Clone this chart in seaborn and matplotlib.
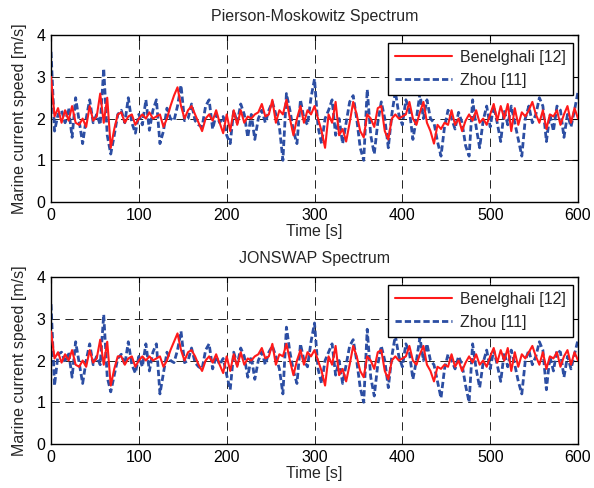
import numpy as np
import pandas as pd
import matplotlib
matplotlib.use("Agg")
import matplotlib.pyplot as plt
import seaborn as sns

# Sampling grid of the simulated records [s]
time = np.arange(0, 601, 4)

# Pierson-Moskowitz spectrum: marine current speed [m/s]
pm_benelghali = [
    3.0, 2.05, 2.25, 1.9, 2.2, 1.95, 2.3, 1.9, 1.85, 2.0, 1.8, 2.3, 1.95, 2.05, 2.6, 1.9, 2.5, 1.3, 1.75, 2.1, 2.15, 1.9, 2.05, 2.1, 1.85, 2.0,
    2.1, 2.0, 2.15, 2.0, 2.05, 2.1, 1.8, 2.0, 2.3, 2.55, 2.75, 2.3, 2.0, 2.2, 2.3, 2.1, 1.9, 1.7, 2.0, 2.1, 1.95, 2.2, 1.9, 1.65, 2.1,
    1.7, 2.2, 1.85, 2.2, 1.9, 2.05, 2.0, 2.1, 2.15, 2.35, 2.05, 2.1, 2.45, 1.9, 2.2, 2.1, 2.45, 2.0, 1.6, 2.0, 2.3, 1.9, 2.2, 2.1, 2.3,
    2.0, 1.7, 1.3, 2.1, 1.9, 2.4, 1.6, 1.75, 1.45, 1.9, 2.4, 2.1, 1.7, 1.55, 2.1, 2.0, 1.8, 2.25, 2.3, 1.7, 1.5, 2.0, 2.1, 2.0, 2.05,
    2.1, 2.4, 2.0, 1.85, 2.15, 2.4, 1.9, 1.7, 1.4, 1.85, 1.75, 1.9, 1.85, 2.2, 1.85, 2.0, 1.7, 1.95, 2.1, 1.95, 2.2, 1.9, 2.0, 1.85, 2.1,
    2.35, 1.95, 2.3, 2.0, 2.35, 1.7, 2.25, 1.85, 2.15, 2.05, 2.2, 2.4, 2.1, 1.9, 2.2, 1.75, 2.1, 2.05, 2.2, 1.85, 2.1, 2.3, 1.9, 2.25, 2.0,
]
pm_zhou = [
    3.6, 1.7, 2.1, 2.2, 1.9, 2.25, 1.55, 2.5, 1.95, 1.4, 2.0, 2.45, 1.9, 2.1, 1.85, 3.2, 1.6, 1.15, 1.6, 2.1, 2.2, 1.9, 2.5, 1.9, 1.65, 2.1,
    1.85, 2.45, 1.72, 2.2, 2.45, 1.4, 1.7, 2.25, 2.0, 1.95, 2.3, 2.8, 1.95, 2.0, 2.35, 1.95, 1.85, 1.8, 2.3, 2.45, 1.75, 2.1, 1.9, 2.05, 1.6,
    1.4, 2.2, 1.9, 2.35, 2.1, 1.55, 2.1, 1.5, 2.0, 2.2, 1.9, 2.2, 2.4, 2.1, 1.8, 1.0, 2.6, 2.2, 1.7, 1.4, 2.45, 2.0, 1.85, 2.5, 2.95,
    1.8, 1.4, 2.0, 2.2, 2.45, 1.6, 2.0, 1.4, 1.9, 2.4, 2.55, 2.0, 1.3, 1.0, 2.7, 1.6, 1.15, 1.9, 2.4, 2.0, 1.3, 2.1, 2.65, 2.1, 1.85,
    2.45, 2.2, 1.5, 2.0, 2.6, 2.0, 2.45, 2.0, 1.9, 1.45, 1.1, 1.8, 2.2, 2.0, 1.75, 2.15, 1.9, 1.35, 1.1, 2.45, 1.8, 1.3, 1.95, 2.3, 1.8,
    2.3, 1.9, 1.45, 2.2, 1.85, 2.3, 1.9, 1.5, 1.1, 2.0, 2.3, 1.9, 2.1, 2.5, 2.3, 1.45, 2.1, 1.7, 2.3, 2.2, 1.55, 2.1, 1.8, 2.2, 2.65,
]

# JONSWAP spectrum: marine current speed [m/s]
js_benelghali = [
    2.7, 2.05, 2.2, 1.95, 2.15, 2.0, 2.25, 1.9, 1.85, 2.0, 1.85, 2.25, 1.95, 2.05, 2.5, 1.9, 2.45, 1.4, 1.8, 2.1, 2.1, 1.9, 2.05, 2.1, 1.85, 2.0,
    2.1, 2.0, 2.1, 2.0, 2.05, 2.1, 1.85, 2.0, 2.25, 2.45, 2.65, 2.25, 2.0, 2.2, 2.25, 2.1, 1.9, 1.75, 2.0, 2.1, 1.95, 2.15, 1.9, 1.7, 2.1,
    1.75, 2.15, 1.85, 2.2, 1.9, 2.05, 2.0, 2.1, 2.15, 2.3, 2.05, 2.1, 2.4, 1.9, 2.15, 2.1, 2.4, 2.0, 1.65, 2.0, 2.25, 1.9, 2.2, 2.1, 2.25,
    2.0, 1.75, 1.4, 2.1, 1.9, 2.35, 1.65, 1.8, 1.5, 1.9, 2.35, 2.1, 1.75, 1.6, 2.1, 2.0, 1.8, 2.2, 2.25, 1.75, 1.55, 2.0, 2.1, 2.0, 2.05,
    2.1, 2.35, 2.0, 1.9, 2.15, 2.35, 1.9, 1.75, 1.5, 1.85, 1.8, 1.9, 1.85, 2.15, 1.85, 2.0, 1.75, 1.95, 2.1, 1.95, 2.15, 1.9, 2.0, 1.85, 2.1,
    2.3, 1.95, 2.25, 2.0, 2.3, 1.75, 2.2, 1.85, 2.15, 2.05, 2.2, 2.35, 2.1, 1.9, 2.2, 1.8, 2.1, 2.05, 2.2, 1.85, 2.1, 2.25, 1.9, 2.2, 2.0,
]
js_zhou = [
    3.35, 1.4, 2.15, 2.2, 1.95, 2.2, 1.6, 2.45, 1.95, 1.45, 2.0, 2.4, 1.9, 2.1, 1.9, 3.1, 1.6, 1.25, 1.65, 2.05, 2.15, 1.9, 2.45, 1.9, 1.7, 2.1,
    1.85, 2.4, 1.75, 2.2, 2.4, 1.2, 1.7, 2.2, 2.0, 1.95, 2.25, 2.7, 1.95, 2.0, 2.3, 1.95, 1.85, 1.8, 2.25, 2.4, 1.8, 2.1, 1.9, 2.05, 1.65,
    1.3, 2.2, 1.9, 2.3, 2.1, 1.6, 2.1, 1.55, 2.0, 2.2, 1.9, 2.2, 2.35, 2.1, 1.8, 1.2, 2.8, 2.2, 1.75, 1.45, 2.4, 2.0, 1.85, 2.45, 2.9,
    1.8, 1.45, 2.0, 2.2, 2.4, 1.65, 2.0, 1.45, 1.9, 2.35, 2.5, 2.0, 1.35, 1.0, 2.75, 1.6, 1.15, 1.9, 2.35, 2.0, 1.35, 2.1, 2.6, 2.1, 1.85,
    2.4, 2.2, 1.55, 2.0, 2.55, 2.0, 2.4, 2.0, 1.9, 1.5, 1.1, 1.8, 2.15, 2.0, 1.8, 2.1, 1.9, 1.4, 1.0, 2.4, 1.8, 1.35, 1.95, 2.25, 1.8,
    2.25, 1.9, 1.5, 2.2, 1.85, 2.25, 1.9, 1.5, 1.2, 2.0, 2.25, 1.9, 2.1, 2.45, 2.25, 1.3, 2.1, 1.75, 2.25, 2.2, 1.6, 2.1, 1.8, 2.15, 2.5,
]

titles = ["Pierson-Moskowitz Spectrum", "JONSWAP Spectrum"]
series_names = ["Benelghali [12]", "Zhou [11]"]
x_ticks = [0, 100, 200, 300, 400, 500, 600]
y_ticks = [0, 1, 2, 3, 4]

sns.set_theme(style="white")
plt.rcParams["font.family"] = ["Liberation Sans", "DejaVu Sans"]
plt.rcParams["lines.scale_dashes"] = False

RED = "#ff1a1a"
BLUE = "#2c4ea3"
FS = 11.5

fig = plt.figure(figsize=(5.94, 4.88), dpi=100)
ax_top = fig.add_axes([0.0859, 0.586, 0.8872, 0.342])
ax_bot = fig.add_axes([0.0859, 0.0902, 0.8872, 0.342])

panels = [
    (ax_top, titles[0], pm_benelghali, pm_zhou),
    (ax_bot, titles[1], js_benelghali, js_zhou),
]

for ax, title, red_vals, blue_vals in panels:
    df = pd.DataFrame({"t": time, "ben": red_vals, "zhou": blue_vals})
    sns.lineplot(data=df, x="t", y="ben", ax=ax, color=RED, linewidth=1.5,
                 label=series_names[0], zorder=3)
    sns.lineplot(data=df, x="t", y="zhou", ax=ax, color=BLUE, linewidth=2.0,
                 linestyle=(0, (4.5, 2.2)), label=series_names[1], zorder=2)

    ax.set_xlim(0, 600)
    ax.set_ylim(0, 4)
    ax.set_xticks(x_ticks)
    ax.set_yticks(y_ticks)
    ax.grid(True, color="#222222", linestyle=(0, (6.0, 4.0)), linewidth=0.7)
    ax.set_axisbelow(True)
    for sp in ax.spines.values():
        sp.set_color("black")
        sp.set_linewidth(1.0)
    ax.tick_params(direction="in", length=4, width=0.8, top=True, right=True,
                   labelsize=FS, colors="black", pad=4)
    ax.set_title(title, fontsize=FS, pad=10)
    ax.set_xlabel("Time [s]", fontsize=FS, labelpad=1)
    ax.set_ylabel("Marine current speed [m/s]", fontsize=FS, labelpad=7)

    leg = ax.legend(loc="upper right", bbox_to_anchor=(0.9905, 0.952),
                    borderaxespad=0, fontsize=FS, handlelength=3.6,
                    fancybox=False, framealpha=1, edgecolor="black",
                    borderpad=0.42, labelspacing=0.5, handletextpad=0.5)
    leg.get_frame().set_linewidth(1.0)

fig.savefig("out.png", dpi=100)
